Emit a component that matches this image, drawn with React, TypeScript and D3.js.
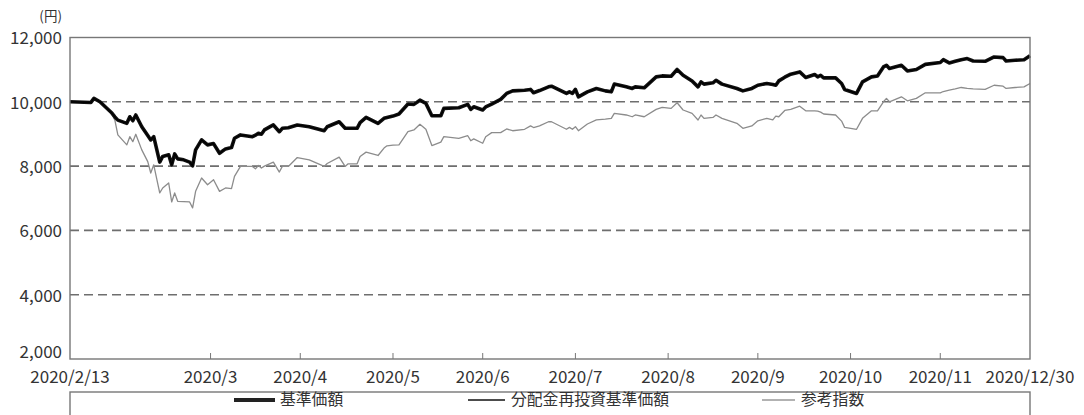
import * as d3 from "d3";

const WIDTH = 1084;
const HEIGHT = 415;
const MARGIN = { top: 37.5, right: 54, bottom: 56, left: 70 };
const FONT = "'Noto Sans CJK JP', 'Noto Sans', sans-serif";

// dates (2020, MM-DD)
const dates = [
  "02-13", "02-20", "02-21", "02-23", "02-27", "02-28", "02-29", "03-03", "03-04", "03-05",
  "03-06", "03-08", "03-10", "03-11", "03-12", "03-14", "03-15", "03-17", "03-18", "03-19",
  "03-20", "03-22", "03-24", "03-25", "03-26", "03-28", "03-30", "04-01", "04-03", "04-05",
  "04-07", "04-08", "04-10", "04-14", "04-15", "04-16", "04-17", "04-18", "04-21", "04-23",
  "04-24", "04-26", "04-29", "05-03", "05-08", "05-09", "05-13", "05-15", "05-16", "05-19",
  "05-20", "05-22", "05-26", "05-28", "05-29", "05-31", "06-02", "06-05", "06-07", "06-09",
  "06-11", "06-13", "06-16", "06-17", "06-22", "06-25", "06-26", "06-27", "06-30", "07-01",
  "07-03", "07-06", "07-08", "07-10", "07-14", "07-16", "07-17", "07-19", "07-22", "07-23",
  "07-28", "07-29", "07-30", "07-31", "08-01", "08-04", "08-07", "08-10", "08-12", "08-13",
  "08-17", "08-19", "08-20", "08-23", "08-27", "08-29", "09-01", "09-03", "09-05", "09-08",
  "09-10", "09-11", "09-12", "09-15", "09-16", "09-18", "09-23", "09-25", "09-28", "09-30",
  "10-03", "10-05", "10-06", "10-07", "10-09", "10-11", "10-14", "10-16", "10-19", "10-20",
  "10-21", "10-22", "10-26", "10-28", "10-29", "11-02", "11-04", "11-07", "11-09", "11-11",
  "11-12", "11-13", "11-17", "11-19", "11-22", "11-25", "11-30", "12-01", "12-03", "12-05",
  "12-07", "12-09", "12-11", "12-15", "12-18", "12-21", "12-22", "12-25", "12-28", "12-30",
];

// 基準価額
const nav = [
  10000, 9980, 10105, 10000, 9650, 9530, 9430, 9330, 9535, 9410,
  9590, 9225, 8950, 8815, 8915, 8125, 8300, 8350, 8040, 8380,
  8225, 8195, 8125, 8010, 8505, 8815, 8660, 8700, 8400, 8535,
  8575, 8865, 8970, 8915, 8960, 9020, 8990, 9125, 9280, 9070,
  9175, 9195, 9280, 9225, 9100, 9225, 9380, 9175, 9175, 9175,
  9350, 9515, 9330, 9485, 9510, 9555, 9620, 9930, 9920, 10050,
  9950, 9565, 9565, 9795, 9815, 9920, 9765, 9845, 9745, 9840,
  9930, 10075, 10260, 10340, 10360, 10385, 10280, 10350, 10465, 10485,
  10260, 10310, 10260, 10385, 10155, 10310, 10415, 10340, 10310, 10550,
  10465, 10415, 10465, 10435, 10775, 10805, 10795, 11005, 10825, 10650,
  10465, 10620, 10550, 10590, 10670, 10550, 10415, 10340, 10415, 10515,
  10570, 10540, 10515, 10650, 10765, 10860, 10930, 10755, 10850, 10775,
  10825, 10745, 10745, 10570, 10385, 10260, 10620, 10775, 10805, 11085,
  11135, 11035, 11135, 10960, 11005, 11165, 11220, 11310, 11210, 11260,
  11310, 11345, 11270, 11260, 11395, 11375, 11270, 11290, 11310, 11435,
];

// 分配金再投資基準価額 (no distributions: same as 基準価額)
const reinvestedNav = nav;

// 参考指数
const refIndex = [
  10000, 9980, 10105, 10000, 9620, 9430, 8970, 8660, 8915, 8760,
  8990, 8505, 8140, 7785, 8040, 7165, 7320, 7475, 6885, 7165,
  6905, 6895, 6885, 6700, 7215, 7630, 7420, 7575, 7215, 7320,
  7300, 7680, 7990, 7990, 7915, 8020, 7940, 8000, 8125, 7815,
  7990, 7990, 8265, 8195, 7990, 8080, 8280, 7990, 8070, 8070,
  8300, 8435, 8330, 8560, 8630, 8650, 8660, 9070, 9125, 9300,
  9145, 8640, 8745, 8915, 8865, 8945, 8790, 8845, 8710, 8915,
  9040, 9040, 9155, 9100, 9145, 9250, 9200, 9250, 9380, 9380,
  9145, 9205, 9145, 9225, 9100, 9310, 9435, 9460, 9485, 9640,
  9590, 9535, 9590, 9535, 9765, 9825, 9795, 9970, 9745, 9640,
  9435, 9590, 9485, 9515, 9590, 9485, 9330, 9175, 9250, 9410,
  9485, 9435, 9555, 9535, 9730, 9765, 9865, 9720, 9715, 9710,
  9680, 9620, 9590, 9400, 9205, 9145, 9485, 9720, 9720, 10000,
  10105, 10000, 10155, 10030, 10105, 10280, 10280, 10320, 10360, 10400,
  10445, 10415, 10400, 10385, 10515, 10485, 10415, 10445, 10465, 10570,
];

const yTicks = [2000, 4000, 6000, 8000, 10000, 12000];
const gridValues = [4000, 6000, 8000, 10000];
const xTickDates = ["2020-03-31", "2020-04-30", "2020-05-31", "2020-06-30", "2020-07-31",
  "2020-08-31", "2020-09-30", "2020-10-31", "2020-11-30"];
const xTickLabels = ["2020/3", "2020/4", "2020/5", "2020/6", "2020/7", "2020/8", "2020/9", "2020/10", "2020/11"];
const startLabel = "2020/2/13";
const endLabel = "2020/12/30";
const legendLabels = ["基準価額", "分配金再投資基準価額", "参考指数"];

const parse = d3.timeParse("%Y-%m-%d");

export default function App() {
  const innerW = WIDTH - MARGIN.left - MARGIN.right;
  const innerH = HEIGHT - MARGIN.top - MARGIN.bottom;
  const parsed = dates.map((d) => parse("2020-" + d) as Date);

  const x = d3.scaleTime().domain([parsed[0], parsed[parsed.length - 1]]).range([0, innerW]);
  const y = d3.scaleLinear().domain([2000, 12000]).range([innerH, 0]);

  const line = d3.line<number>()
    .x((_, i) => x(parsed[i]))
    .y((v) => y(v));

  const fmt = d3.format(",");
  const legendY = HEIGHT - 10;

  return (
    <svg width={WIDTH} height={HEIGHT} style={{ position: "absolute", left: 0, top: 0, background: "#fff" }}
      fontFamily={FONT}>
      <g transform={`translate(${MARGIN.left},${MARGIN.top})`}>
        {/* grid */}
        {gridValues.map((v) => (
          <line key={v} x1={0} x2={innerW} y1={y(v)} y2={y(v)}
            stroke="#6e6e6e" strokeWidth={1.6} strokeDasharray="9,5" />
        ))}

        {/* bottom ticks (month ends) */}
        {xTickDates.map((d) => {
          const px = x(parse(d) as Date);
          return <line key={d} x1={px} x2={px} y1={innerH} y2={innerH - 6} stroke="#777" strokeWidth={1} />;
        })}

        {/* series */}
        <path d={line(refIndex) ?? ""} fill="none" stroke="#8c8c8c" strokeWidth={1.3} strokeLinejoin="round" />
        <path d={line(nav) ?? ""} fill="none" stroke="#111" strokeWidth={3.6} strokeLinejoin="round" />
        <path d={line(reinvestedNav) ?? ""} fill="none" stroke="#000" strokeWidth={1.2} strokeLinejoin="round" />

        {/* frame */}
        <rect x={0} y={0} width={innerW} height={innerH} fill="none" stroke="#777" strokeWidth={1.4} />

        {/* y labels (bottom one sits on the axis line) */}
        {yTicks.map((v, i) => (
          <text key={v} x={-8} y={y(v)} dy={i === 0 ? "-0.05em" : "0.4em"} textAnchor="end" fontSize={17} fill="#333">
            {fmt(v)}
          </text>
        ))}
        <text x={-8} y={-17} textAnchor="end" fontSize={13.5} fill="#333">(円)</text>

        {/* x labels */}
        {xTickDates.map((d, i) => (
          <text key={d} x={x(parse(d) as Date)} y={innerH + 23.5} textAnchor="middle" fontSize={17} fill="#333">
            {xTickLabels[i]}
          </text>
        ))}
        <text x={x(parsed[0])} y={innerH + 23.5} textAnchor="middle" fontSize={17} fill="#333">{startLabel}</text>
        <text x={x(parsed[parsed.length - 1])} y={innerH + 23.5} textAnchor="middle" fontSize={17} fill="#333">{endLabel}</text>
      </g>

      {/* legend box */}
      <rect x={MARGIN.left} y={392} width={innerW} height={40} fill="none" stroke="#777" strokeWidth={1.4} />
      <line x1={234} x2={275} y1={legendY - 5} y2={legendY - 5} stroke="#222" strokeWidth={4} />
      <text x={280} y={legendY} fontSize={15.8} fill="#333">{legendLabels[0]}</text>
      <line x1={468} x2={505} y1={legendY - 5} y2={legendY - 5} stroke="#111" strokeWidth={1.6} />
      <text x={511} y={legendY} fontSize={15.8} fill="#333">{legendLabels[1]}</text>
      <line x1={762} x2={795} y1={legendY - 5} y2={legendY - 5} stroke="#999" strokeWidth={1.4} />
      <text x={801} y={legendY} fontSize={15.8} fill="#333">{legendLabels[2]}</text>
    </svg>
  );
}
